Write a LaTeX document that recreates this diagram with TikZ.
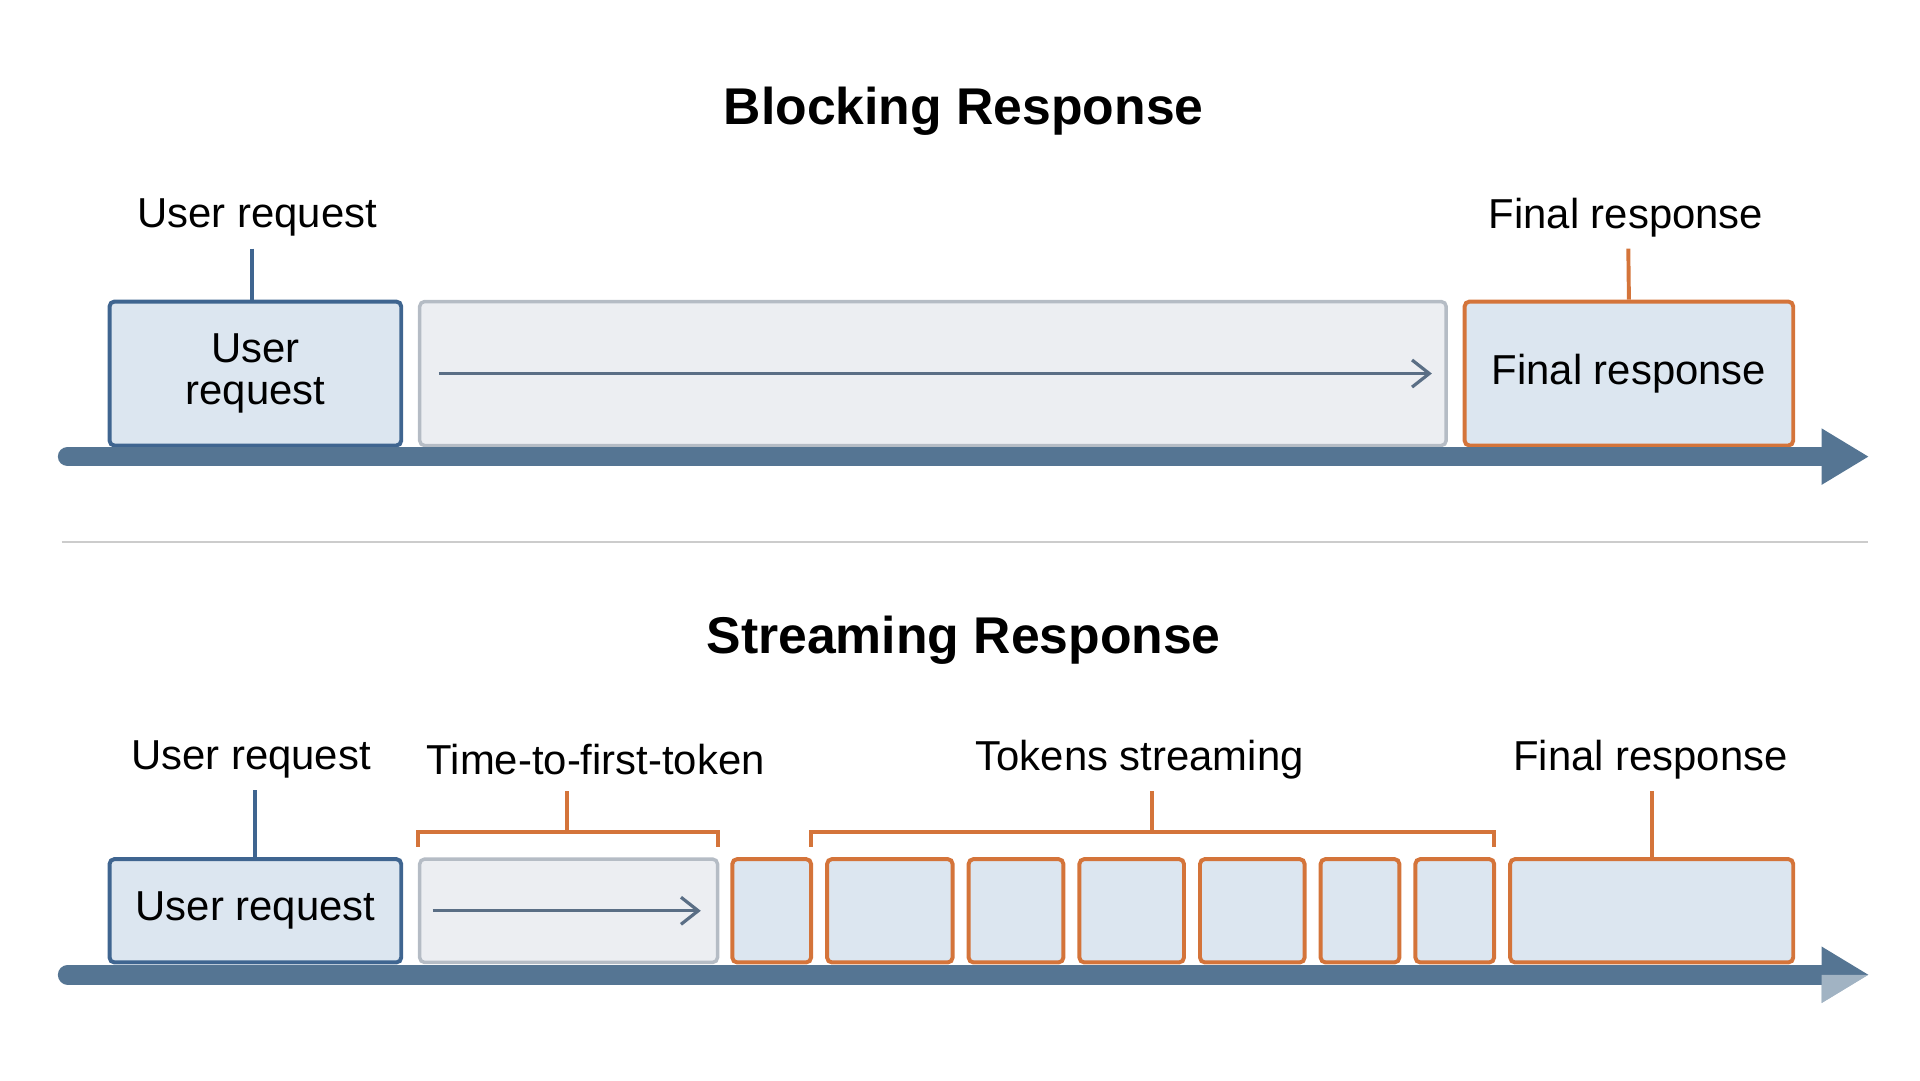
\documentclass[tikz,border=0pt]{standalone}
\usepackage{fontspec}
\setmainfont{Liberation Sans}
\usetikzlibrary{positioning,arrows.meta}

\definecolor{boxblue}{HTML}{DCE6F0}
\definecolor{edgeblue}{HTML}{3F6590}
\definecolor{waitgray}{HTML}{ECEEF2}
\definecolor{edgegray}{HTML}{B5BCC5}
\definecolor{tokorange}{HTML}{D4743A}
\definecolor{axisblue}{HTML}{557593}
\definecolor{arrowgray}{HTML}{5A6E85}

\tikzset{
  reqbox/.style={draw=edgeblue, fill=boxblue, line width=1.6pt, rounded corners=2pt, align=center, font=\fontsize{17}{19}\selectfont},
  waitbox/.style={draw=edgegray, fill=waitgray, line width=1.4pt, rounded corners=2pt},
  tokbox/.style={draw=tokorange, fill=boxblue, line width=1.6pt, rounded corners=2pt, font=\fontsize{17}{19}\selectfont},
  lbl/.style={font=\fontsize{17}{19}\selectfont, inner sep=0pt},
  ttl/.style={font=\bfseries\fontsize{21}{24}\selectfont, inner sep=0pt},
  blueline/.style={draw=edgeblue, line width=1.6pt},
  orangeline/.style={draw=tokorange, line width=1.6pt},
  flow/.style={draw=arrowgray, line width=1.3pt, -{Straight Barb[length=7pt,width=11pt]}},
}

\begin{document}
\begin{tikzpicture}[x=0.5pt,y=0.5pt,yscale=-1]
    \useasboundingbox (0,0) rectangle (1560,878);

    % Blocking part
    \node[ttl] (btitle) at (783,90) {Blocking Response};
    \node[lbl] (bureql) at (209,177) {User request};
    \node[lbl] (bfinl) at (1321,177) {Final response};

    \node[reqbox, minimum width=118.5pt, minimum height=58.5pt] (bureq) at (207.5,303.5) {User\\[-2pt]request};
    \node[waitbox, minimum width=417pt, minimum height=58.5pt] (bwait) at (758,303.5) {};
    \node[tokbox, minimum width=133.5pt, minimum height=58.5pt] (bfin) at (1323.5,303.5) {Final response};

    \draw[blueline] (205,202) -- (bureq.north -| 205,0);
    \draw[orangeline] (1323,202) -- (bfin.north);
    \draw[flow] ([xshift=8.5pt]bwait.west) -- ([xshift=-6.5pt]bwait.east);

    % time axis
    \draw[axisblue, line width=8pt, line cap=round] (55,371) -- (1485,371);
    \fill[axisblue] (1480,348) -- (1518,371) -- (1480,394) -- cycle;

    % separator
    \draw[gray!40, line width=0.8pt] (50,440) -- (1518,440);

    % Streaming part
    \node[ttl] (stitle) at (783,520) {Streaming Response};
    \node[lbl] (sureql) at (204,617) {User request};
    \node[lbl] (sttftl) at (484,617) {Time-to-first-token};
    \node[lbl] (stokl) at (926,617) {Tokens streaming};
    \node[lbl] (sfinl) at (1341,617) {Final response};

    \node[reqbox, minimum width=118.5pt, minimum height=42pt] (sureq) at (207.5,740) {User request};
    \node[waitbox, minimum width=121pt, minimum height=42pt] (swait) at (462,740) {};
    \draw[flow] ([xshift=6pt]swait.west) -- ([xshift=-7.5pt]swait.east);

    \foreach \a/\b [count=\i] in {595/659,672/774,787/864,877/962,975/1060,1073/1137,1150/1214}
      \draw[tokorange, fill=boxblue, line width=1.6pt, rounded corners=2pt] (\a,698) rectangle (\b,782) coordinate (tok\i);
    \node[tokbox, minimum width=115pt, minimum height=42pt] (sfin) at (1342,740) {};

    \draw[blueline] (207,642) -- (sureq.north -| 207,0);
    \draw[orangeline] (340,688) -- (340,676) -- (583,676) -- (583,688);
    \draw[orangeline] (461,676) -- (461,643);
    \draw[orangeline] (659,688) -- (659,676) -- (1214,676) -- (1214,688);
    \draw[orangeline] (936,676) -- (936,643);
    \draw[orangeline] (1342,643) -- (sfin.north);

    % time axis
    \draw[axisblue, line width=8pt, line cap=round] (55,792) -- (1485,792);
    \fill[axisblue] (1480,769) -- (1518,792) -- (1480,815) -- cycle;
    \fill[white, opacity=0.45] (1480,792) -- (1518,792) -- (1480,815) -- cycle;
\end{tikzpicture}
\end{document}
